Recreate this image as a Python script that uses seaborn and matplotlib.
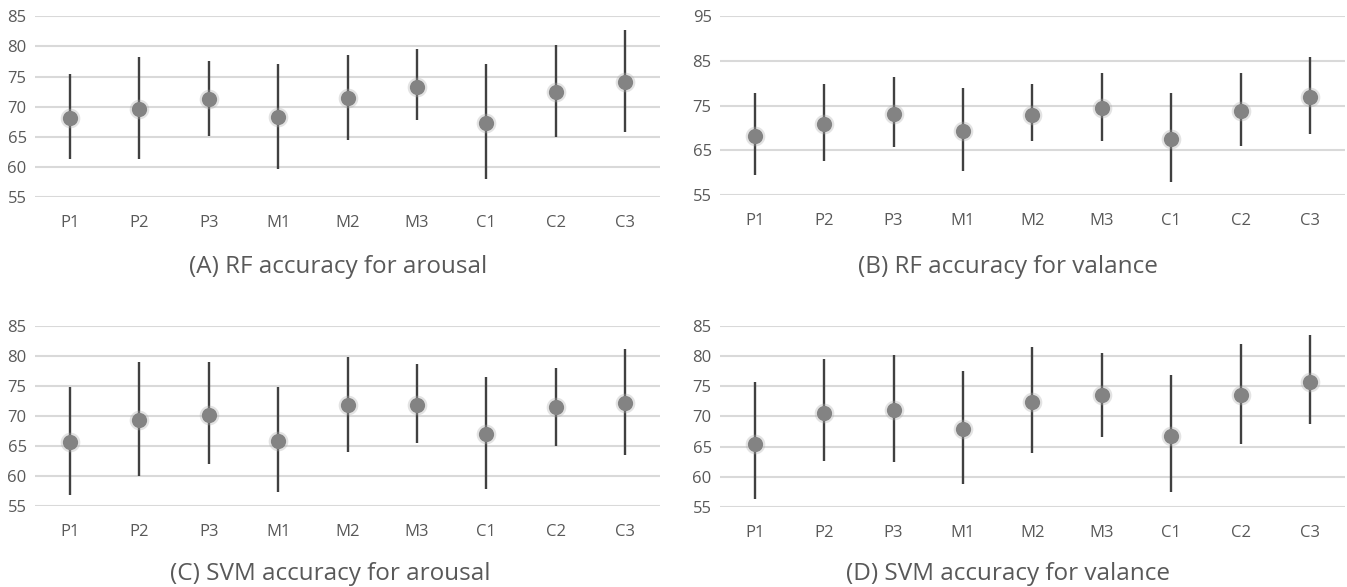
import pandas as pd
import matplotlib.pyplot as plt
import seaborn as sns

categories = ['P1', 'P2', 'P3', 'M1', 'M2', 'M3', 'C1', 'C2', 'C3']

# (A) RF arousal
rf_arousal_mean = [68.1, 69.6, 71.2, 68.2, 71.4, 73.2, 67.3, 72.4, 74.1]
rf_arousal_low = [61.3, 61.3, 65.1, 59.6, 64.5, 67.7, 57.9, 64.9, 65.8]
rf_arousal_high = [75.4, 78.2, 77.5, 77.1, 78.6, 79.5, 77.1, 80.3, 82.7]

# (B) RF valance
rf_valance_mean = [68.3, 70.9, 73.2, 69.4, 72.9, 74.4, 67.6, 73.8, 76.9]
rf_valance_low = [59.4, 62.6, 65.7, 60.3, 67.0, 67.1, 58.0, 66.0, 68.7]
rf_valance_high = [77.8, 79.8, 81.5, 79.0, 79.8, 82.4, 77.8, 82.4, 85.8]

# (C) SVM arousal
svm_arousal_mean = [65.7, 69.4, 70.2, 65.9, 71.8, 71.9, 67.1, 71.5, 72.2]
svm_arousal_low = [56.9, 60.0, 62.0, 57.3, 64.0, 65.5, 57.8, 65.1, 63.6]
svm_arousal_high = [74.8, 79.0, 79.0, 74.9, 79.9, 78.7, 76.6, 78.1, 81.2]

# (D) SVM valance
svm_valance_mean = [65.5, 70.6, 71.0, 67.9, 72.4, 73.5, 66.8, 73.5, 75.8]
svm_valance_low = [56.2, 62.6, 62.4, 58.7, 64.0, 66.6, 57.5, 65.4, 68.8]
svm_valance_high = [75.7, 79.5, 80.3, 77.5, 81.5, 80.5, 76.9, 82.0, 83.5]

titles = ['(A) RF accuracy for arousal', '(B) RF accuracy for valance',
          '(C) SVM accuracy for arousal', '(D) SVM accuracy for valance']
y_ticks = [[55, 60, 65, 70, 75, 80, 85],
           [55, 65, 75, 85, 95],
           [55, 60, 65, 70, 75, 80, 85],
           [55, 60, 65, 70, 75, 80, 85]]

panels = [
    (rf_arousal_mean, rf_arousal_low, rf_arousal_high),
    (rf_valance_mean, rf_valance_low, rf_valance_high),
    (svm_arousal_mean, svm_arousal_low, svm_arousal_high),
    (svm_valance_mean, svm_valance_low, svm_valance_high),
]

sns.set_style('white')
plt.rcParams['font.family'] = ['Open Sans', 'DejaVu Sans']

fig = plt.figure(figsize=(13.47, 5.87), dpi=100)

# axes boxes in figure fractions (left, bottom, width, height)
boxes = [(0.026, 0.665, 0.464, 0.307),
         (0.5345, 0.668, 0.464, 0.304),
         (0.026, 0.138, 0.464, 0.306),
         (0.5345, 0.137, 0.464, 0.307)]
title_pos = [(0.251, 0.545), (0.748, 0.545), (0.245, 0.022), (0.748, 0.022)]

grid_col = '#d9d9d9'
text_col = '#595959'

for i, (mean, low, high) in enumerate(panels):
    ax = fig.add_axes(boxes[i])
    df = pd.DataFrame({'cat': categories, 'mean': mean, 'low': low, 'high': high})

    ax.vlines(df['cat'], df['low'], df['high'], color='#404040', linewidth=1.7, zorder=3)
    # soft halo behind dots
    sns.scatterplot(data=df, x='cat', y='mean', ax=ax, s=200, color='#b0b0b0',
                    alpha=0.35, linewidth=0, zorder=4, legend=False)
    sns.scatterplot(data=df, x='cat', y='mean', ax=ax, s=120, color='#838383',
                    linewidth=0, zorder=5, legend=False)

    yt = y_ticks[i]
    ax.set_ylim(yt[0], yt[-1])
    ax.set_yticks(yt)
    ax.set_xlim(-0.5, len(categories) - 0.5)
    ax.grid(axis='y', color=grid_col, linewidth=1.5)
    ax.grid(axis='x', visible=False)
    ax.set_axisbelow(True)
    for s in ax.spines.values():
        s.set_visible(False)
    ax.tick_params(axis='both', length=0, labelsize=12, labelcolor=text_col)
    ax.tick_params(axis='x', pad=13)
    ax.tick_params(axis='y', pad=6)
    ax.set_xlabel('')
    ax.set_ylabel('')

    fig.text(title_pos[i][0], title_pos[i][1], titles[i], ha='center', va='center',
             fontsize=17.5, color=text_col)

fig.savefig('out.png', dpi=100)
